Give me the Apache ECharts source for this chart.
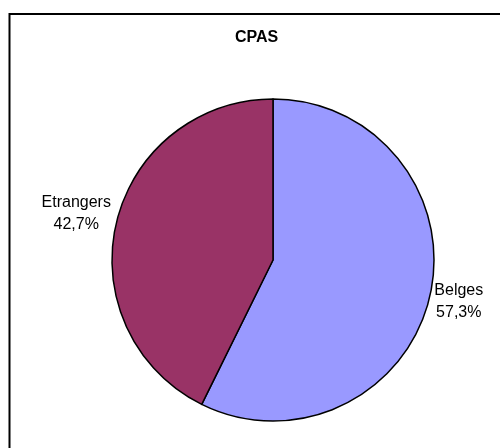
<!DOCTYPE html>
<html>
<head>
<meta charset="utf-8">
<script src="https://cdn.jsdelivr.net/npm/echarts@6/dist/echarts.min.js"></script>
<style>
  html, body { margin: 0; padding: 0; background: #fff; }
  #chart { width: 500px; height: 448px; }
</style>
</head>
<body>
<div id="chart"></div>
<script>
const titleText = 'CPAS';
const categories = ['Belges', 'Etrangers'];
const values = [57.3, 42.7];
const sliceColors = ['#9999FF', '#993366'];
// label nudges relative to the pie's own outside-label anchor
const labelNudges = [[29, 5], [-40, -10]];

const chart = echarts.init(document.getElementById('chart'), null, { renderer: 'canvas' });

const data = categories.map((name, i) => ({
  name: name,
  value: values[i],
  itemStyle: { color: sliceColors[i] }
}));

chart.setOption({
  backgroundColor: '#ffffff',
  animation: false,
  title: {
    text: titleText,
    left: 235,
    top: 30,
    padding: 0,
    textStyle: {
      fontFamily: 'Liberation Sans, Arial, sans-serif',
      fontSize: 16,
      fontWeight: 'bold',
      color: '#000'
    }
  },
  graphic: [{
    type: 'rect',
    shape: { x: 9.5, y: 14, width: 700, height: 700 },
    style: { fill: 'none', stroke: '#000', lineWidth: 2 },
    silent: true,
    z: -1
  }],
  series: [{
    type: 'pie',
    center: [273, 260],
    radius: 161,
    startAngle: 90,
    clockwise: true,
    avoidLabelOverlap: false,
    data: data,
    itemStyle: { borderColor: '#000', borderWidth: 1.5 },
    emphasis: { disabled: true },
    label: {
      show: true,
      position: 'outside',
      distanceToLabelLine: 0,
      fontFamily: 'Liberation Sans, Arial, sans-serif',
      fontSize: 16,
      lineHeight: 22,
      color: '#000',
      formatter: p => p.name + '\n' + String(p.value).replace('.', ',') + '%'
    },
    labelLine: { show: false, length: 0, length2: 0 },
    labelLayout: p => ({
      align: 'center',
      verticalAlign: 'middle',
      dx: labelNudges[p.dataIndex][0],
      dy: labelNudges[p.dataIndex][1]
    })
  }]
});
</script>
</body>
</html>
